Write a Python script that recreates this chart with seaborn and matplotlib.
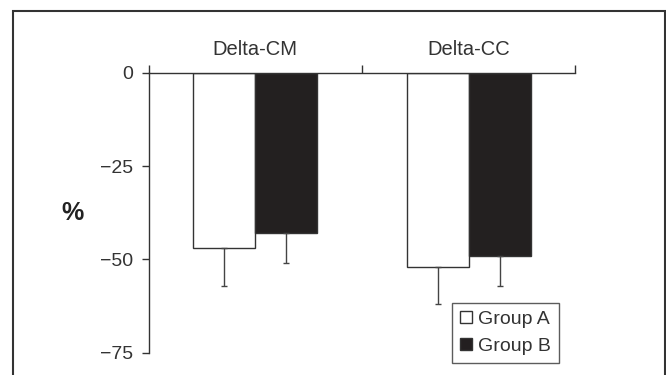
import pandas as pd
import matplotlib
matplotlib.use("Agg")
import matplotlib.pyplot as plt
from matplotlib.patches import Rectangle, Patch
import seaborn as sns

# ======================
# DATA
# ======================
measures = ["Delta-CM", "Delta-CC"]
groups = ["Group A", "Group B"]
group_a_mean = [-47, -52]
group_b_mean = [-43, -49]
group_a_sd = [10, 10]
group_b_sd = [8, 8]
y_ticks = [0, -25, -50, -75]

df = pd.DataFrame({
    "measure": measures * 2,
    "group": [groups[0]] * 2 + [groups[1]] * 2,
    "value": group_a_mean + group_b_mean,
    "sd": group_a_sd + group_b_sd,
})

# ======================
# STYLE
# ======================
sns.set_style("white")
plt.rcParams["font.family"] = ["Liberation Sans", "DejaVu Sans"]

ink = "#333333"
colors = {"Group A": "white", "Group B": "#231f20"}

fig = plt.figure(figsize=(6.66, 3.75), dpi=100)
ax = fig.add_axes([148.7 / 666, 1 - 352.7 / 375, (575.3 - 148.7) / 666, (352.7 - 72.7) / 375])

sns.barplot(
    data=df, x="measure", y="value", hue="group",
    order=measures, hue_order=groups, palette=colors,
    width=0.58, gap=0, errorbar=None, edgecolor=ink, linewidth=1.0,
    legend=False, ax=ax,
)

# one-sided (downward) error bars
for bars, g in zip(ax.containers, groups):
    sub = df[df["group"] == g].set_index("measure").loc[measures]
    xs = [b.get_x() + b.get_width() / 2 for b in bars]
    ax.errorbar(xs, sub["value"], yerr=[sub["sd"], [0] * len(xs)],
                fmt="none", ecolor="#444444", elinewidth=1.0,
                capsize=2.5, capthick=1.0, zorder=1)

ax.set_xlim(-0.5, 1.5)
ax.set_ylim(-75, 0)

# spines
for s in ["bottom", "right"]:
    ax.spines[s].set_visible(False)
for s in ["left", "top"]:
    ax.spines[s].set_color(ink)
    ax.spines[s].set_linewidth(1.0)

# x axis on top: labels at categories, separators as ticks
ax.xaxis.tick_top()
ax.set_xticks([0, 1])
ax.set_xticklabels(measures, fontsize=14.5, color=ink)
ax.set_xticks([-0.5, 0.5, 1.5], minor=True)
ax.tick_params(axis="x", which="major", length=0, pad=10)
ax.tick_params(axis="x", which="minor", length=5.5, width=1.0, color=ink, direction="out", top=True)
ax.set_xlabel("")

ax.set_yticks(y_ticks)
ax.set_yticklabels([str(t).replace("-", "\u2212") for t in y_ticks], fontsize=14, color=ink)
ax.tick_params(axis="y", length=5, width=1.0, color=ink, direction="out", left=True, pad=6.5)

ax.set_ylabel("%", rotation=0, fontsize=18, fontweight="bold", color="#222222", va="center", ha="center")
ax.yaxis.set_label_coords(-0.1775, 0.5)

# legend
handles = [Patch(facecolor=colors[g], edgecolor=ink, linewidth=1.0, label=g) for g in groups]
leg = fig.legend(
    handles=handles, loc="upper left",
    bbox_to_anchor=(452.3 / 666, 1 - 303 / 375),
    frameon=True, fancybox=False, fontsize=14,
    handlelength=0.62, handleheight=0.62, handletextpad=0.3,
    borderpad=0.4, labelspacing=0.5, borderaxespad=0,
)
leg.get_frame().set_edgecolor(ink)
leg.get_frame().set_linewidth(1.0)
for t in leg.get_texts():
    t.set_color(ink)

# outer frame
fig.patches.append(Rectangle((12.5 / 666, -0.1), (664.5 - 12.5) / 666, 1 + 0.1 - 11 / 375,
                             transform=fig.transFigure, fill=False,
                             edgecolor=ink, linewidth=1.5))

fig.savefig("out.png", dpi=100)
